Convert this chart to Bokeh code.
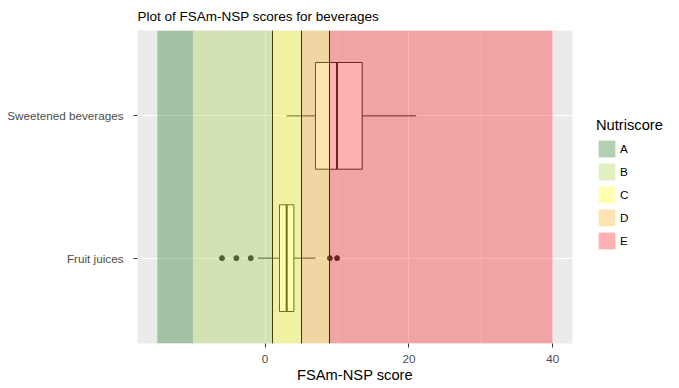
from bokeh.plotting import figure
from bokeh.models import Range1d, FixedTicker, Legend, LegendItem, CDSView, IndexFilter
from bokeh.embed import file_html
from bokeh.resources import INLINE

# ---- data ----
categories = ["Fruit juices", "Sweetened beverages"]
q1 = [2, 7]
median = [3, 10]
q3 = [4, 13.5]
whisker_low = [-1, 3]
whisker_high = [7, 21]
outlier_cat = ["Fruit juices", "Fruit juices", "Fruit juices", "Fruit juices", "Fruit juices"]
outlier_score = [-6, -4, -2, 9, 10]

grades = ["A", "B", "C", "D", "E"]
grade_low = [-15, -10, 1, 5, 9]
grade_high = [-10, 1, 5, 9, 40]
grade_colors = ["#006400", "#9ACD32", "#FFFF00", "#FFA500", "#FF0000"]
thresholds = [1, 5, 9]
x_ticks = [0, 20, 40]
x_minor = [-10, 10, 30]

FONT = "Liberation Sans"
ypos = {c: i + 1 for i, c in enumerate(categories)}
ys = [ypos[c] for c in categories]
half = 0.375
y_start, y_end = 0.4, 2.6
x_span = max(grade_high) - min(grade_low)
x_start, x_end = min(grade_low) - 0.05 * x_span, max(grade_high) + 0.05 * x_span

p = figure(frame_width=435, frame_height=313, output_backend="svg", toolbar_location=None,
           x_range=Range1d(x_start, x_end), y_range=Range1d(y_start, y_end),
           min_border_left=137, min_border_right=107, min_border_top=30, min_border_bottom=45,
           title="Plot of FSAm-NSP scores for beverages")
p.background_fill_color = "#EBEBEB"
p.border_fill_color = "white"
p.outline_line_color = None

p.title.text_font = FONT
p.title.text_font_size = "13.5px"
p.title.text_font_style = "normal"
p.title.text_color = "black"
p.title.align = "left"
p.title.standoff = 13
p.title.offset = 0

# boxplots (drawn first, bands overlay them)
p.quad(left=q1, right=q3, bottom=[y - half for y in ys], top=[y + half for y in ys],
       fill_color="white", line_color="#333333", line_width=1)
p.segment(x0=whisker_low, y0=ys, x1=q1, y1=ys, line_color="#333333", line_width=1)
p.segment(x0=q3, y0=ys, x1=whisker_high, y1=ys, line_color="#333333", line_width=1)
p.segment(x0=median, y0=[y - half for y in ys], x1=median, y1=[y + half for y in ys],
          line_color="#333333", line_width=2)
p.scatter(x=outlier_score, y=[ypos[c] for c in outlier_cat], size=5,
          fill_color="#333333", line_color="#333333")

p.vspan(x=thresholds, line_color="black", line_width=1)

# legend key background (grey95), filtered out of the plot itself
key_bg = p.quad(left=grade_low[:1], right=grade_high[:1], bottom=[y_start], top=[y_end],
                fill_color="#F2F2F2", line_color=None, view=CDSView(filter=IndexFilter([])))

items = []
for g, lo, hi, col in zip(grades, grade_low, grade_high, grade_colors):
    r = p.quad(left=[lo], right=[hi], bottom=[y_start], top=[y_end],
               fill_color=col, fill_alpha=0.3, line_color=None)
    items.append(LegendItem(label=g, renderers=[key_bg, r]))

legend = Legend(items=items, location=(24, 92), title="Nutriscore")
legend.title_text_font = FONT
legend.title_text_font_size = "14.7px"
legend.title_text_font_style = "normal"
legend.title_text_color = "black"
legend.title_standoff = 5
legend.label_text_font = FONT
legend.label_text_font_size = "11.7px"
legend.label_text_color = "black"
legend.label_standoff = 3
legend.glyph_width = 21
legend.glyph_height = 21
legend.label_height = 21
legend.spacing = 2
legend.padding = 0
legend.margin = 0
legend.border_line_color = None
legend.background_fill_color = "white"
legend.background_fill_alpha = 1
p.add_layout(legend, "right")

# axes
xa = p.xaxis[0]
xa.ticker = FixedTicker(ticks=x_ticks, minor_ticks=x_minor)
xa.axis_line_color = None
xa.major_tick_line_color = "#333333"
xa.major_tick_out = 4
xa.major_tick_in = 0
xa.minor_tick_line_color = None
xa.major_label_text_color = "#4D4D4D"
xa.major_label_text_font = FONT
xa.major_label_text_font_size = "11.7px"
xa.major_label_standoff = 7
xa.axis_label = "FSAm-NSP score"
xa.axis_label_text_font = FONT
xa.axis_label_text_font_size = "14.7px"
xa.axis_label_text_font_style = "normal"
xa.axis_label_text_color = "black"
xa.axis_label_standoff = 1

ya = p.yaxis[0]
ya.ticker = FixedTicker(ticks=ys, minor_ticks=[])
ya.major_label_overrides = {ypos[c]: c for c in categories}
ya.axis_line_color = None
ya.major_tick_line_color = "#333333"
ya.major_tick_out = 4
ya.major_tick_in = 0
ya.minor_tick_line_color = None
ya.major_label_text_color = "#4D4D4D"
ya.major_label_text_font = FONT
ya.major_label_text_font_size = "11.7px"
ya.major_label_standoff = 10

p.xgrid.ticker = FixedTicker(ticks=x_ticks, minor_ticks=x_minor)
p.xgrid.grid_line_color = "white"
p.xgrid.grid_line_width = 1
p.xgrid.minor_grid_line_color = "white"
p.xgrid.minor_grid_line_width = 0.5
p.ygrid.ticker = FixedTicker(ticks=ys, minor_ticks=[])
p.ygrid.grid_line_color = "white"
p.ygrid.grid_line_width = 1

open("out.html", "w").write(file_html(p, INLINE))
